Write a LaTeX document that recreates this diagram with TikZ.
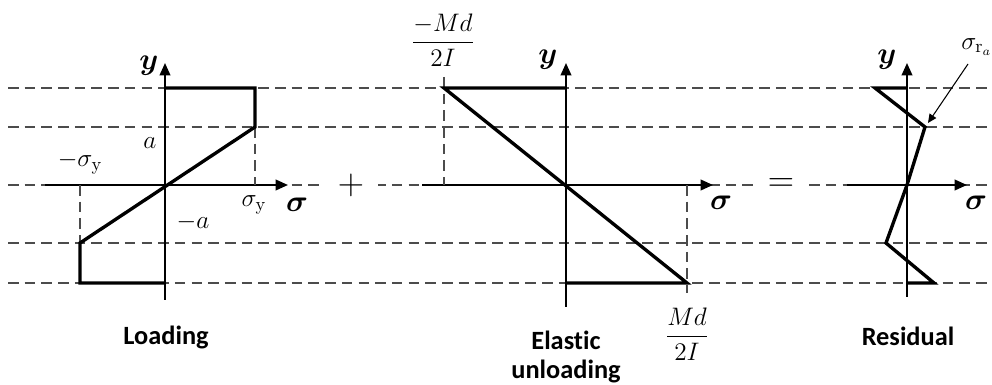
\documentclass[tikz,border=0pt]{standalone}
\usepackage{amsmath,amssymb}
\usepackage{fontspec}
\newfontfamily\capfont[Ligatures=NoCommon]{Carlito}
\usetikzlibrary{arrows.meta}

\begin{document}
\begin{tikzpicture}[x=0.02cm, y=-0.02cm,
    >={Triangle[length=7pt,width=6pt]},
    axis/.style={->, line width=1.1pt},
    profile/.style={line width=1.9pt, line join=miter},
    guide/.style={dash pattern=on 6pt off 3.5pt, line width=0.7pt, black!70},
    pointer/.style={-{Triangle[length=5pt,width=4.5pt]}, line width=0.6pt},
    lbl/.style={font=\fontsize{15}{17}\selectfont, inner sep=0pt},
    axlbl/.style={font=\fontsize{18}{20}\selectfont, inner sep=0pt},
    caption/.style={font=\capfont\bfseries\fontsize{15}{16}\selectfont,
                    align=center, inner sep=0pt},
    op/.style={fill=white, minimum width=1.1cm, inner sep=2pt,
               font=\fontsize{21}{23}\selectfont}]

  \useasboundingbox (0,0) rectangle (992,385);

  %% Level guides
  \foreach \lev in {88,127,185,243,283}
    \draw[guide] (8,\lev) -- (992,\lev);

  %% Operators
  \node[op] (plus)   at (351,185) {$+$};
  \node[op] (equals) at (781,185) {$=$};

  %% Loading
  \draw[axis] (165,300) -- (165,63);
  \draw[axis] (45,185) -- (288,185);
  \draw[guide] (255,127) -- (255,185);
  \draw[guide] (80,185) -- (80,243);
  \draw[profile] (165,88) -- (255,88) -- (255,127) -- (80,243)
    -- (80,283) -- (165,283);
  \node[axlbl] (yload) at (149,66) {$\boldsymbol{y}$};
  \node[axlbl] (sload) at (297,205) {$\boldsymbol{\sigma}$};
  \node[lbl] (aplus)  at (150,143) {$a$};
  \node[lbl] (aminus) at (193,222) {$-a$};
  \node[lbl] (syneg)  at (80,163)  {$-\sigma_{\mathrm{y}}$};
  \node[lbl] (sypos)  at (254,205) {$\sigma_{\mathrm{y}}$};
  \node[caption] (capload) at (166,337) {Loading};

  %% Elastic unloading
  \draw[axis] (566,307) -- (566,63);
  \draw[axis] (422,185) -- (713,185);
  \draw[guide] (444,77) -- (444,185);
  \draw[guide] (687,185) -- (687,293);
  \draw[profile] (566,88) -- (444,88) -- (687,283) -- (566,283);
  \node[axlbl] (yunl) at (548,60)  {$\boldsymbol{y}$};
  \node[axlbl] (sunl) at (721,203) {$\boldsymbol{\sigma}$};
  \node[lbl] (mdneg) at (443,40)  {$\dfrac{-Md}{2I}$};
  \node[lbl] (mdpos) at (687,334) {$\dfrac{Md}{2I}$};
  \node[caption] (capunl) at (566,357) {Elastic\\unloading};

  %% Residual
  \draw[axis] (907,297) -- (907,63);
  \draw[axis] (847,185) -- (967,185);
  \draw[profile] (907,88) -- (875,88) -- (925,127) -- (907,185)
    -- (886,243) -- (934,283) -- (907,283);
  \node[axlbl] (yres) at (887,60)  {$\boldsymbol{y}$};
  \node[axlbl] (sres) at (976,203) {$\boldsymbol{\sigma}$};
  \node[lbl, anchor=west] (sra) at (961,47) {$\sigma_{\mathrm{r}_a}$};
  \coordinate (srafrom) at (968,64);
  \coordinate (srato)   at (928,123);
  \draw[pointer] (srafrom) -- (srato);
  \node[caption] (capres) at (908,336) {Residual};
\end{tikzpicture}
\end{document}
